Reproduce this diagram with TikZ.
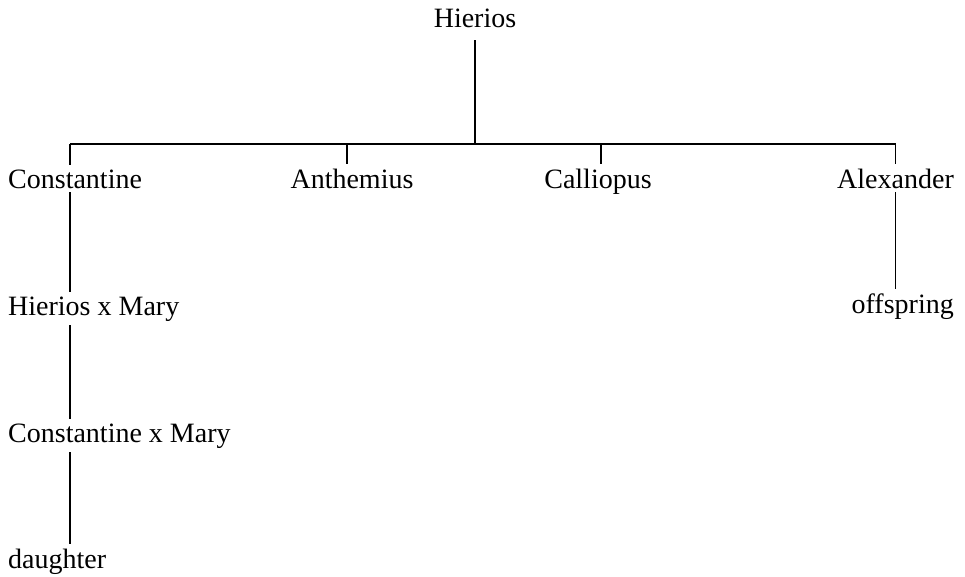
\documentclass[tikz,border=0pt]{standalone}
\usepackage{fontspec}
\setmainfont{Liberation Serif}
\usetikzlibrary{positioning}
\tikzset{person/.style={inner xsep=0pt,inner ysep=4pt,font=\fontsize{28}{32}\selectfont},
  link/.style={line width=1.2pt}}
\begin{document}
\begin{tikzpicture}[x=1pt,y=-1pt]
\useasboundingbox (0,0) rectangle (965,576);
\node[person,anchor=base] (hie) at (475,27) {Hierios};
\node[person,anchor=base west] (con) at (8,188) {Constantine};
\node[person,anchor=base] (ant) at (352,188) {Anthemius};
\node[person,anchor=base] (cal) at (598,188) {Calliopus};
\node[person,anchor=base east] (ale) at (954,188) {Alexander};
\node[person,anchor=base west] (hxm) at (8,315) {Hierios x Mary};
\node[person,anchor=base west] (cxm) at (8,442) {Constantine x Mary};
\node[person,anchor=base west] (dau) at (8,568) {daughter};
\node[person,anchor=base east] (off) at (954,313) {offspring};
\coordinate (barL) at (70,144); \coordinate (barR) at (ale.north |- barL);
% the bar and the ticks
\draw[link,shorten <=9pt] (hie.south) -- (hie.south |- barL);
\draw[link] (barL) -- (barR) -- (ale.north);
\draw[link] (barL) -- (barL |- con.north);
\draw[link] ([xshift=-5pt]ant.north |- barL) -- ([xshift=-5pt]ant.north);
\draw[link] ([xshift=3pt]cal.north |- barL) -- ([xshift=3pt]cal.north);
% Constantine's line
\draw[link] (barL |- con.south) -- (barL |- hxm.north);
\draw[link] (barL |- hxm.south) -- (barL |- cxm.north);
\draw[link] (barL |- cxm.south) -- (barL |- dau.north);
% Alexander's line
\draw[link] (ale.south) -- (ale.south |- off.north);
\end{tikzpicture}
\end{document}
